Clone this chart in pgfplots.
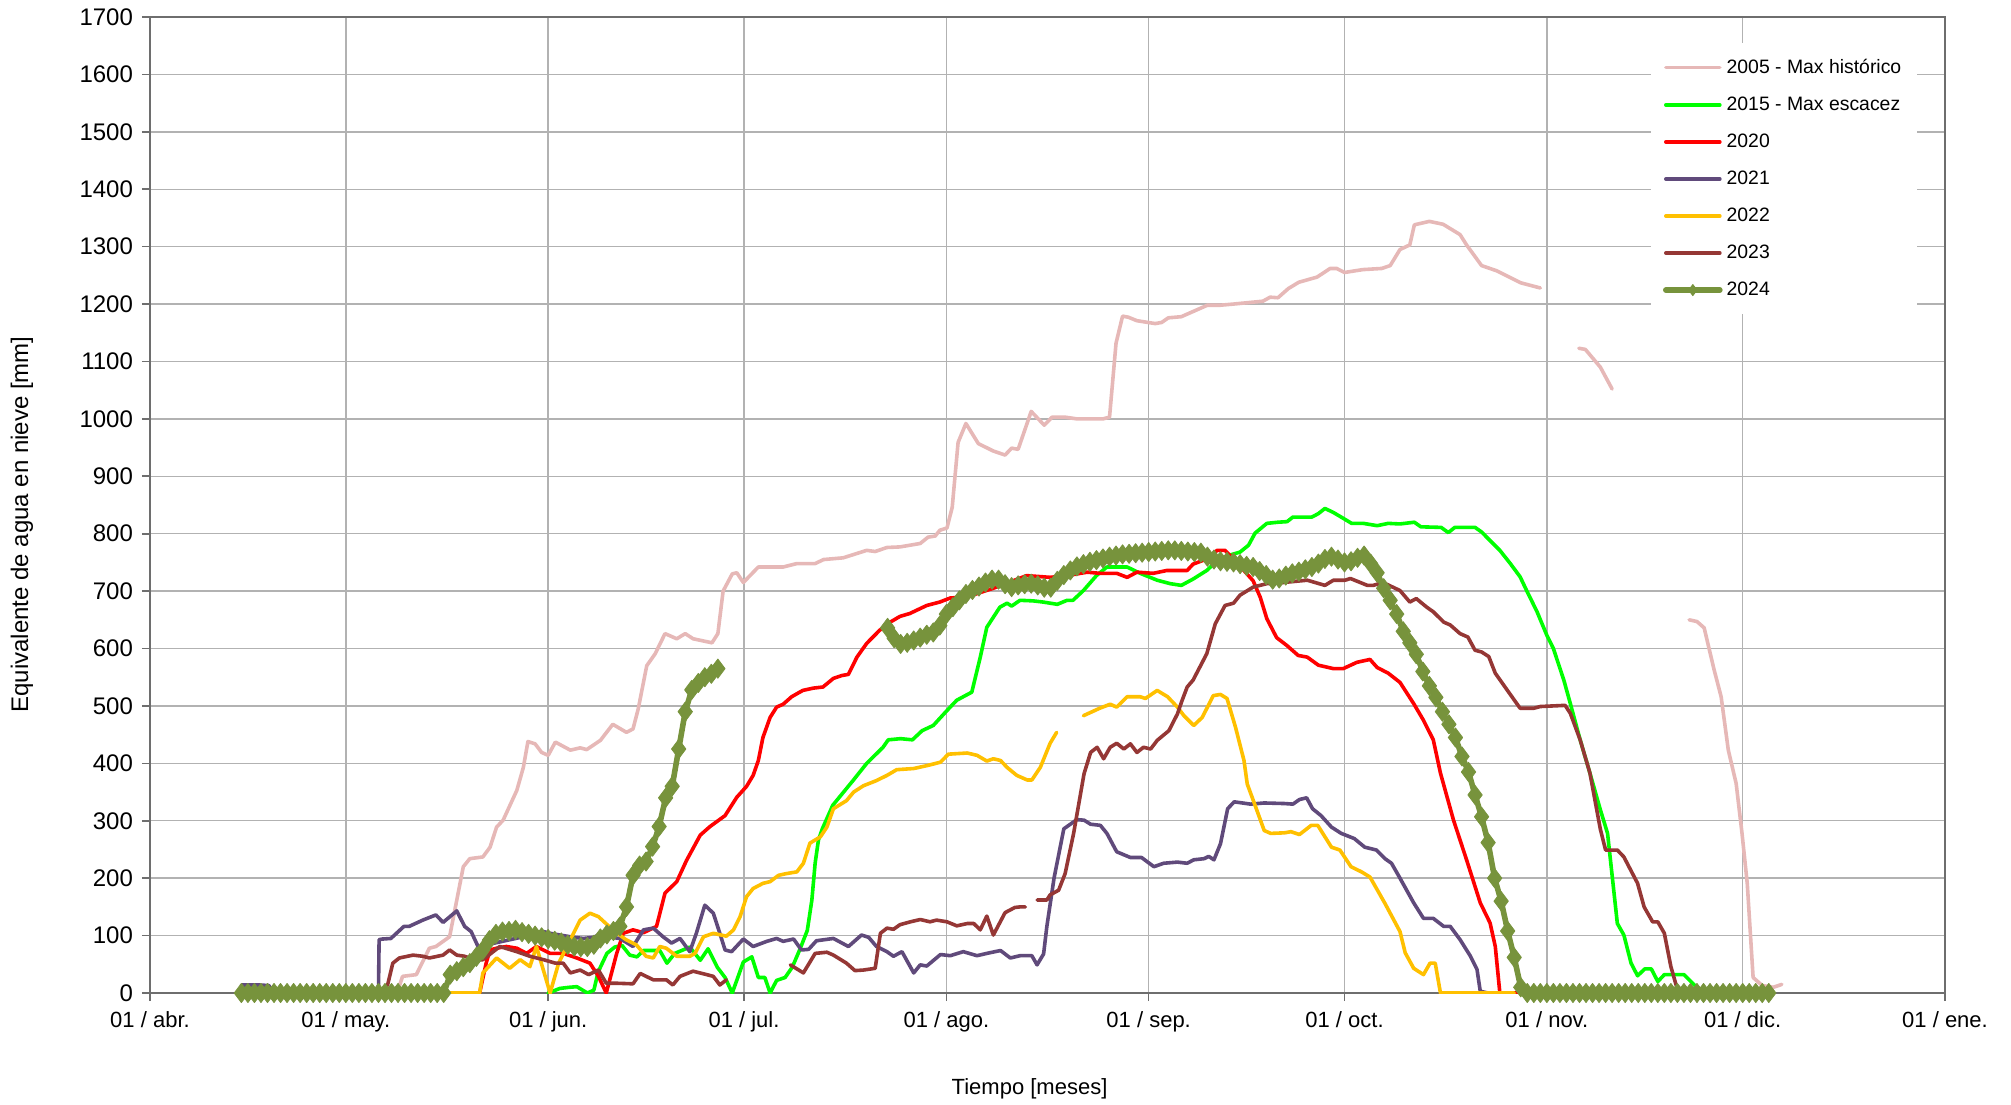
\documentclass[border=0pt]{standalone}
\usepackage{fontspec}
\setmainfont{Liberation Sans}
\usepackage{pgfplots}
\pgfplotsset{compat=1.18}
\definecolor{cPink}{RGB}{230,184,183}
\definecolor{cGreen}{RGB}{0,255,0}
\definecolor{cRed}{RGB}{255,0,0}
\definecolor{cPurple}{RGB}{96,74,123}
\definecolor{cYellow}{RGB}{255,192,0}
\definecolor{cBrown}{RGB}{149,55,53}
\definecolor{cOlive}{RGB}{119,147,60}
\definecolor{cGrid}{RGB}{178,178,178}
\definecolor{cAxis}{RGB}{110,110,110}
\begin{document}
\begin{tikzpicture}
\begin{axis}[
  at={(0,0)}, anchor=south west,
  scale only axis, width=897.5pt, height=488pt,
  xmin=0, xmax=275, ymin=0, ymax=1700,
  xtick={0,30,61,91,122,153,183,214,244,275},
  xticklabels={01 / abr.,01 / may.,01 / jun.,01 / jul.,01 / ago.,01 / sep.,01 / oct.,01 / nov.,01 / dic.,01 / ene.},
  ytick={0,100,...,1700},
  xtick pos=bottom, ytick pos=left,
  scaled y ticks=false,
  yticklabel style={/pgf/number format/fixed,/pgf/number format/1000 sep={},/pgf/number format/assume math mode=true, font=\fontsize{12}{14}\selectfont, xshift=-1pt},
  xticklabel style={font=\fontsize{11}{13}\selectfont, yshift=-1.5pt},
  ticklabel style={text=black},
  tick align=outside, major tick length=4pt,
  tick style={cAxis, line width=0.8pt},
  grid=major,
  major grid style={cGrid, line width=0.7pt},
  axis line style={cAxis, line width=1.3pt},
  unbounded coords=jump,
  xlabel={Tiempo [meses]},
  ylabel={Equivalente de agua en nieve [mm]},
  every axis x label/.style={at={(axis description cs:0.49,0)}, anchor=center, yshift=-48pt, font=\fontsize{11}{13}\selectfont},
  every axis y label/.style={at={(axis description cs:0,0.48)}, rotate=90, anchor=center, yshift=64pt, font=\fontsize{12}{14}\selectfont},
  legend style={at={(0.836,0.974)}, anchor=north west, draw=none, fill=white,
    font=\fontsize{9.7}{11}\selectfont, row sep=6.25pt, inner xsep=6pt, inner ysep=6pt,
    cells={anchor=west}},
  legend image code/.code={\draw[mark repeat=2,mark phase=2,#1] plot coordinates {(0pt,0pt) (13.5pt,0pt) (27pt,0pt)};},
  legend image post style={mark size=2.8pt},
  every axis plot/.append style={line join=round, line cap=round},
]
% 2005
\addplot[cPink, line width=1.8pt] coordinates {
(36,0) (38.2,12) (38.7,29) (40.8,32) (42.8,78) (43.8,81) (45.9,98) (48,220) (49,234) (51,237) (52.1,254) (53.1,289) (54.1,301) (56.2,353) (57.2,393) (57.9,438) (59,434) (60,419) (61,414) (62.1,437) (64.4,423) (65.9,427) (66.9,424) (69,440) (70.9,468) (73,454) (74,460) (74.8,495) (76.1,570) (77.4,591) (78.9,626) (80.7,617) (82,626) (83.2,617) (86.1,610) (87,626) (87.8,700) (89.2,730) (89.9,732) (90.9,715) (93.2,742) (97,742) (99.1,748) (101.9,748) (103.2,755) (106.2,758) (109.8,771) (111.1,769) (112.9,776) (114.9,777) (118,783) (119.2,794) (120.3,796) (121,806) (122.1,810) (122.9,846) (123.8,959) (125,992) (126.9,957) (129.2,944) (131,937) (132,949) (133,947) (135,1013) (137,989) (138.2,1003) (140.2,1003) (142,1000) (146,1000) (147,1003) (148,1132) (149,1179) (149.9,1177) (151.2,1171) (154,1166) (155,1168) (156,1176) (158,1178) (159.8,1187) (162,1198) (164,1198) (166,1200) (170.5,1205) (171.6,1212) (172.8,1211) (174.4,1227) (176,1238) (178.8,1247) (180.8,1262) (181.8,1262) (183,1255) (185.8,1260) (188.7,1262) (190,1267) (191.5,1295) (193,1303) (193.7,1338) (196,1344) (198.1,1339) (200.7,1321) (201.7,1303) (204,1267) (206.3,1258) (210,1237) (213,1228)
(216,nan)
(218.9,1123) (219.9,1121) (222.2,1090) (224,1052)
(230,nan)
(235.8,650) (237,647) (238.1,636) (239.6,564) (240.7,516) (241.8,423) (243,365) (243.9,278) (244.7,191) (245.6,27) (247,13) (248.7,10) (250,15)
};
\addlegendentry{2005 - Max histórico}
% 2015
\addplot[cGreen, line width=1.8pt] coordinates {
(61,0) (62.8,8) (64.3,10) (65.4,11) (67,0) (68,5) (68.6,34) (69,45) (70,69) (71.2,80) (72.3,83) (73.5,66) (74.6,63) (75.6,74) (78.1,74) (79.2,52) (80.4,69) (82.7,80) (84.3,57) (85.5,77) (86.9,45) (88.1,27) (89.2,0) (90.9,54) (92.2,63) (93.2,27) (94.2,27) (95,0) (96,22) (97.3,27) (98.4,45) (99.6,77) (100.7,109) (101.4,162) (101.9,226) (102.4,266) (103,286) (104.6,327) (107.7,370) (109.8,400) (112.3,428) (113.1,441) (115,443) (116.8,441) (118.3,457) (120,466) (122.1,492) (123.6,510) (125.9,524) (127.2,585) (128.2,637) (130.2,672) (131.3,679) (132,674) (133.3,684) (135.3,683) (136.8,681) (139,677) (140.5,684) (141.4,684) (143,701) (145,727) (146.6,742) (149.7,742) (151.7,731) (154.3,719) (156.3,713) (158,710) (159.8,721) (161.9,736) (163.5,753) (165.2,762) (167,768) (168.3,780) (169.3,801) (171.1,818) (172.8,820) (174.2,821) (175.1,829) (178,829) (179,835) (180,844) (181.3,837) (184.1,818) (185.9,818) (188,814) (189.7,818) (191.5,817) (193.7,820) (194.7,812) (197.8,811) (198.9,802) (199.9,811) (203,811) (204,803) (205.3,788) (206.8,771) (208.4,748) (209.9,725) (210.9,701) (212.5,664) (214,623) (215,600) (216.6,545) (217.6,504) (219.1,441) (220.6,383) (222.2,319) (223.3,278) (224.8,121) (225.8,101) (226.9,52) (227.9,30) (229,42) (230,42) (231,20) (232,32) (235,32) (236.6,14) (238,0)
};
\addlegendentry{2015 - Max escacez}
% 2020
\addplot[cRed, line width=1.8pt] coordinates {
(50,0) (50.5,0) (51.5,52) (52.1,75) (53.1,78) (54.6,81) (56.2,78) (57.7,69) (59.2,81) (61.3,69) (63.3,69) (65.4,61) (67.4,52) (68.7,29) (69.9,0) (71.5,69) (72.5,104) (74,110) (75.6,105) (77.6,116) (78.9,174) (80.7,194) (82.2,231) (84.3,275) (85.8,290) (88.1,309) (89.9,341) (91.4,360) (92.4,379) (93.2,405) (93.9,445) (95,480) (96,498) (97,503) (98.3,516) (100,527) (101.6,531) (103.1,533) (104.7,548) (106,553) (107,555) (108.3,585) (109.8,609) (111.8,632) (113.4,646) (114.9,656) (116.4,661) (119,675) (121,681) (122.6,688) (125.2,690) (129.2,705) (134.3,727) (137.9,724) (140.5,727) (143.6,733) (145.5,731) (148.1,731) (149.7,724) (151.2,733) (153.7,731) (155.8,736) (158.9,736) (159.8,747) (161.9,756) (163.5,771) (164.7,771) (166,756) (169,718) (170.1,689) (171.1,652) (172.6,619) (174.2,605) (175.9,588) (177.3,585) (179,571) (181.3,565) (182.8,565) (184.9,576) (186.9,581) (188,567) (189.7,557) (191.5,541) (193.6,504) (195.1,475) (196.6,441) (197.7,383) (199.7,301) (201.7,232) (203.8,157) (205.3,122) (206.1,81) (206.8,0) (210,0)
};
\addlegendentry{2020}
% 2021
\addplot[cPurple, line width=1.8pt] coordinates {
(14,14) (16.7,14) (18.2,13) (19,0) (35,0) (35.1,93) (35.6,94) (36.9,95) (38.9,116) (39.7,116) (41.8,127) (43.8,136) (44.9,123) (47,143) (48.2,116) (49.2,107) (50.5,75) (52,85) (54,90) (56,95) (58,100) (60.3,107) (61.3,104) (62.8,101) (64.9,97) (66.4,95) (68,97) (68.7,101) (70,98) (72,95) (74,81) (75.6,110) (77.1,113) (78.6,98) (79.9,87) (81.2,95) (82.7,72) (83.7,104) (85,153) (86.3,139) (87.3,104) (88.1,75) (89.1,72) (90.9,94) (92.4,81) (94.5,90) (96,95) (97,90) (98.6,94) (99.8,75) (100.9,76) (102.1,91) (104.7,95) (107,81) (109,101) (110.1,97) (111.3,81) (112.9,72) (113.9,64) (115.2,72) (117,35) (118,49) (119,47) (121.1,67) (122.6,65) (124.6,72) (126.7,65) (128.2,69) (130.3,74) (131.8,61) (133.3,65) (135.1,65) (135.9,49) (136.9,68) (137.4,116) (138.5,200) (140,286) (142,302) (143.1,301) (144.1,294) (145.6,292) (146.6,278) (148.1,246) (150.2,236) (151.9,236) (153.8,220) (155.3,226) (157.4,228) (158.9,226) (159.9,232) (161.5,234) (162.2,238) (163,232) (164,260) (165.1,321) (166.1,333) (168.6,329) (170.7,331) (173.8,330) (175.1,329) (176.1,337) (177.2,340) (178.1,321) (179.4,309) (181,289) (182.5,278) (184.5,269) (186.1,254) (187.9,249) (189.2,234) (190.2,226) (191.5,200) (193.6,157) (195.1,130) (196.6,130) (198.2,116) (199.2,116) (200.7,93) (202.3,64) (203.3,41) (203.8,3) (205,0)
};
\addlegendentry{2021}
% 2022
\addplot[cYellow, line width=1.8pt] coordinates {
(45,0) (50.5,0) (51,35) (53.1,61) (55.1,43) (56.7,58) (58.2,46) (59.2,81) (61.3,0) (62.6,52) (64.4,93) (65.9,127) (67.4,139) (68.7,133) (70.9,110) (72.9,93) (74.5,84) (76,64) (77.1,61) (78.1,81) (79.1,78) (80.7,64) (82.7,64) (83.5,69) (84.8,98) (86.3,104) (88.3,99) (89.4,110) (90.4,133) (91.4,168) (92.4,182) (93.9,191) (95,194) (96.3,205) (97.5,208) (99.1,211) (100.1,226) (101.1,261) (102.7,272) (103.7,289) (104.7,321) (106.7,335) (107.8,350) (109.3,361) (111.3,370) (112.9,379) (114.4,389) (117,391) (119,396) (121.1,402) (122.3,416) (125.2,418) (126.7,414) (128.2,404) (129.2,408) (130.3,405) (131.3,393) (132.8,379) (134.4,371) (135.1,371) (136.4,393) (137.9,435) (138.9,454)
(141,nan)
(143,483) (145.5,496) (147.1,503) (148.1,498) (149.7,516) (151.7,516) (152.5,513) (154.3,527) (155.9,516) (157.4,498) (158.4,483) (159.9,466) (161.2,480) (162.9,518) (164,520) (165,513) (166.3,463) (167.6,405) (168.1,364) (169.2,330) (170.7,283) (171.7,278) (173.8,279) (174.8,281) (176.1,276) (177.9,292) (178.9,292) (181,254) (182.3,249) (184,220) (185.6,211) (186.9,202) (189.2,156) (191.5,107) (192.3,70) (193.6,43) (195.1,32) (196.1,52) (196.9,52) (197.7,0) (209,0)
};
\addlegendentry{2022}
% 2023
\addplot[cBrown, line width=1.8pt] coordinates {
(35,0) (36.4,14) (37.2,52) (38.2,61) (40.3,66) (41.8,64) (42.8,61) (44.9,66) (45.9,75) (47,66) (48.2,64) (49.7,58) (51,58) (53.6,81) (56.2,72) (58.2,64) (60.3,58) (62.1,52) (63.3,52) (64.4,35) (65.9,40) (67.2,32) (68.7,40) (69.9,17) (71.5,17) (74,16) (75.1,34) (77.1,23) (79.1,23) (80.1,14) (81.2,29) (83.2,38) (85.3,32) (86.3,29) (87.3,14) (88.3,23)
(93,nan)
(98.1,49) (100.1,35) (101.9,69) (103.7,71) (104.7,66) (106.7,52) (108,39) (109.3,40) (111.1,43) (111.9,104) (112.9,113) (113.9,111) (114.9,119) (116.5,124) (118,128) (119.5,124) (120.5,127) (122.1,124) (123.6,117) (125.2,121) (126.2,121) (127.2,110) (128.2,134) (129.2,101) (131,140) (132.5,149) (133.3,150) (134.1,150)
(135,nan)
(135.9,162) (137.4,162) (137.9,171) (139.2,179) (140.2,208) (141.5,278) (143.1,382) (144.1,419) (145.1,428) (146.1,408) (147.1,428) (148.1,435) (149.2,425) (150.2,434) (151.2,419) (152.2,428) (153.3,425) (154.3,440) (156.1,457) (157.4,486) (158.1,509) (158.9,533) (159.8,545) (161.9,591) (163.2,643) (164.7,675) (166,679) (167,693) (169,707) (171.1,713) (173.6,715) (177.3,719) (178.5,715) (180,710) (181.3,719) (183.1,719) (183.9,722) (186.5,710) (187.4,710) (188.9,715) (191.5,701) (193,681) (194,687) (195.6,672) (196.6,664) (198.2,646) (199.2,641) (200.7,626) (201.9,620) (203,597) (204,594) (205.1,586) (206.1,557) (207.9,528) (209.9,496) (212,496) (213,499) (216.8,501) (217.6,487) (219.1,441) (220.6,383) (222.2,285) (223,249) (224.8,249) (225.8,237) (227.9,191) (228.9,150) (230.2,124) (231,124) (232,104) (233,46) (233.8,14) (235,0)
};
\addlegendentry{2023}
% 2024
\addplot[cOlive, line width=2.8pt, mark=diamond*, mark size=4.8pt, mark options={solid, fill=cOlive, draw=cOlive, line width=0.4pt}] coordinates {
(14,0) (15,0) (16,0) (17,0) (18,0) (19,0) (20,0) (21,0) (22,0) (23,0) (24,0) (25,0) (26,0) (27,0) (28,0) (29,0) (30,0) (31,0) (32,0) (33,0) (34,0) (35,0) (36,0) (37,0) (38,0) (39,0) (40,0) (41,0) (42,0) (43,0) (44,0) (45,0)
(46,32) (47,38) (48,45) (49,52) (50,63) (51,75) (52,92) (53,103) (54,107) (55,108) (56,110) (57,106) (58,103) (59,100) (60,97) (61,94) (62,91) (63,88) (64,84) (65,81) (66,80) (67,80) (68,84) (69,95) (70,102) (71,108) (72,116) (73,150) (74,205) (75,222) (76,229) (77,255) (78,290) (79,340) (80,360) (81,425) (82,490) (83,528) (84,540) (85,550) (86,556) (87,565)
(100,nan)
(113,636) (114,618) (115,608) (116,610) (117,614) (118,619) (119,624) (120,628) (121,640) (122,660) (123,672) (124,684) (125,695) (126,702) (127,708) (128,715) (129,720) (130,720) (131,712) (132,707) (133,710) (134,712) (135,713) (136,710) (137,706) (138,706) (139,718) (140,728) (141,736) (142,743) (143,747) (144,751) (145,754) (146,757) (147,760) (148,762) (149,764) (150,765) (151,766) (152,767) (153,768) (154,769) (155,770) (156,771) (157,771) (158,770) (159,769) (160,768) (161,767) (162,760) (163,755) (164,752) (165,751) (166,750) (167,747) (168,744) (169,742) (170,735) (171,728) (172,720) (173,722) (174,727) (175,731) (176,734) (177,738) (178,742) (179,748) (180,756) (181,760) (182,755) (183,750) (184,752) (185,758) (186,762) (187,748) (188,732) (189,705) (190,684) (191,660) (192,630) (193,610) (194,590) (195,560) (196,535) (197,515) (198,490) (199,468) (200,445) (201,412) (202,385) (203,345) (204,307) (205,262) (206,200) (207,160) (208,108) (209,62) (210,10)
(211,0) (212,0) (213,0) (214,0) (215,0) (216,0) (217,0) (218,0) (219,0) (220,0) (221,0) (222,0) (223,0) (224,0) (225,0) (226,0) (227,0) (228,0) (229,0) (230,0) (231,0) (232,0) (233,0) (234,0) (235,0) (236,0) (237,0) (238,0) (239,0) (240,0) (241,0) (242,0) (243,0) (244,0) (245,0) (246,0) (247,0) (248,0)
};
\addlegendentry{2024}
\end{axis}
\pgfresetboundingbox
\path[use as bounding box] (-75pt,-55.5pt) rectangle (930.5pt,496.5pt);
\end{tikzpicture}
\end{document}
